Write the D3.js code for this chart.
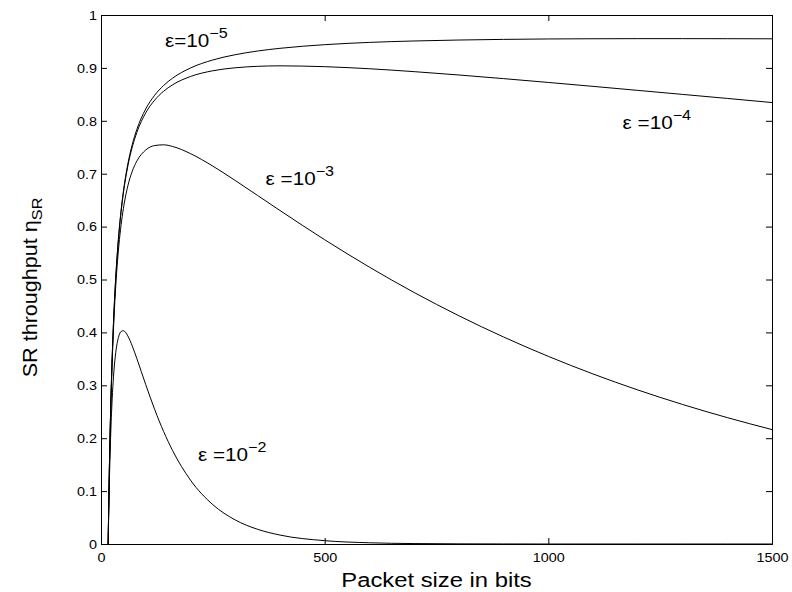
<!DOCTYPE html>
<html><head><meta charset="utf-8">
<script src="https://cdn.jsdelivr.net/npm/d3@7"></script>
<style>
html,body{margin:0;padding:0;background:#fff;}
text{font-family:"Liberation Sans",Arial,Helvetica,sans-serif;fill:#000;}
</style></head>
<body><svg id="c" width="792" height="592"></svg>
<script>
// Packet size (bits)
const packetBits = [16,18,20,22,25,28,32,36,40,45,50,60,70,80,100,120,140,160,200,250,300,350,400,500,600,700,800,900,1000,1100,1200,1300,1400,1500];
// SR throughput for each bit error rate
const eps1e5 = [0,0.1089,0.196,0.2673,0.3528,0.42,0.49,0.5442,0.5877,0.6313,0.6661,0.7183,0.7555,0.7834,0.8224,0.8483,0.8668,0.8806,0.8998,0.915,0.9249,0.9319,0.937,0.9439,0.9482,0.9509,0.9527,0.9539,0.9547,0.9551,0.9553,0.9553,0.9552,0.955];
const eps1e4 = [0,0.1087,0.1956,0.2667,0.3519,0.4188,0.4884,0.5424,0.5856,0.6288,0.6631,0.7144,0.7507,0.7777,0.815,0.8391,0.8559,0.868,0.8837,0.8946,0.9002,0.903,0.9039,0.9023,0.8984,0.8929,0.8866,0.8797,0.8725,0.8651,0.8575,0.8499,0.8423,0.8345];
const eps1e3 = [0,0.107,0.1921,0.2615,0.3441,0.4084,0.4746,0.5251,0.565,0.6038,0.6339,0.6769,0.7049,0.7237,0.7448,0.7532,0.7546,0.7515,0.738,0.7143,0.6872,0.6589,0.6305,0.5752,0.5234,0.4754,0.4315,0.3913,0.3547,0.3214,0.2912,0.2638,0.2389,0.2163];
const eps1e2 = [0,0.0909,0.1603,0.2143,0.2744,0.317,0.3553,0.3791,0.3934,0.4018,0.4032,0.3933,0.3741,0.3508,0.3013,0.2543,0.2126,0.1767,0.1208,0.0744,0.0455,0.0278,0.0169,0.0063,0.0023,0.0008,0.0003,0.0001,0,0,0,0,0,0];
const xTicks = [0,500,1000,1500];
const yTicks = [0,0.1,0.2,0.3,0.4,0.5,0.6,0.7,0.8,0.9,1];
const yTickLabels = ["0","0.1","0.2","0.3","0.4","0.5","0.6","0.7","0.8","0.9","1"];
const curveLabels = [
  {base:"ε=10", exp:"−5", n:143, v:0.94},
  {base:"ε =10", exp:"−4", n:1166, v:0.784},
  {base:"ε =10", exp:"−3", n:368, v:0.679},
  {base:"ε =10", exp:"−2", n:217, v:0.156}
];
const seriesList = [eps1e5, eps1e4, eps1e3, eps1e2];

const svg = d3.select("#c");
const L=101, R=772, T=15, B=544;
const x = d3.scaleLinear().domain([0,1500]).range([L,R]);
const y = d3.scaleLinear().domain([0,1]).range([B,T]);
const tick = 6;
const sx = 1.2; // horizontal text stretch

// curves
const line = d3.line().x((d,i)=>x(packetBits[i])).y(d=>y(d)).curve(d3.curveMonotoneX);
seriesList.forEach(s=>{
  svg.append("path").attr("d",line(s)).attr("fill","none").attr("stroke","#000").attr("stroke-width",1);
});

// axes (ticks inward on all sides, MATLAB style)
const gB = svg.append("g").attr("transform",`translate(0,${B})`)
  .call(d3.axisBottom(x).tickValues(xTicks).tickSize(-tick).tickPadding(9).tickFormat(d3.format("d")));
const gT = svg.append("g").attr("transform",`translate(0,${T})`)
  .call(d3.axisTop(x).tickValues(xTicks).tickSize(-tick).tickFormat(""));
const gL = svg.append("g").attr("transform",`translate(${L},0)`)
  .call(d3.axisLeft(y).tickValues(yTicks).tickSize(-tick).tickPadding(4).tickFormat((d,i)=>yTickLabels[i]));
const gR = svg.append("g").attr("transform",`translate(${R},0)`)
  .call(d3.axisRight(y).tickValues(yTicks).tickSize(-tick).tickFormat(""));
[gB,gT,gL,gR].forEach(g=>{
  g.select(".domain").attr("stroke","#000").attr("stroke-width",1);
  g.selectAll(".tick line").attr("stroke","#000");
  g.selectAll("text").style("font-family","Liberation Sans, Arial, sans-serif").style("font-size","12px").attr("fill","#000")
    .attr("transform",`scale(${sx},1)`);
});
gL.selectAll("text").attr("dy","0.36em").attr("x",-4/sx);

// axis labels
svg.append("text").attr("transform",`translate(${(L+R)/2},587) scale(1.19,1)`).attr("text-anchor","middle")
  .style("font-size","20px").text("Packet size in bits");
const yl = svg.append("text").attr("transform",`translate(37,${(T+B)/2+8}) rotate(-90) scale(1.08,1)`).attr("text-anchor","middle")
  .style("font-size","20px");
yl.append("tspan").text("SR throughput η");
yl.append("tspan").attr("dy",5).style("font-size","15px").text("SR");

// curve labels
curveLabels.forEach(c=>{
  const t = svg.append("text").attr("transform",`translate(${x(c.n)},${y(c.v)}) scale(1.15,1)`).style("font-size","18px");
  t.append("tspan").text(c.base);
  t.append("tspan").attr("dy",-9).style("font-size","14px").text(c.exp);
});
</script></body></html>
